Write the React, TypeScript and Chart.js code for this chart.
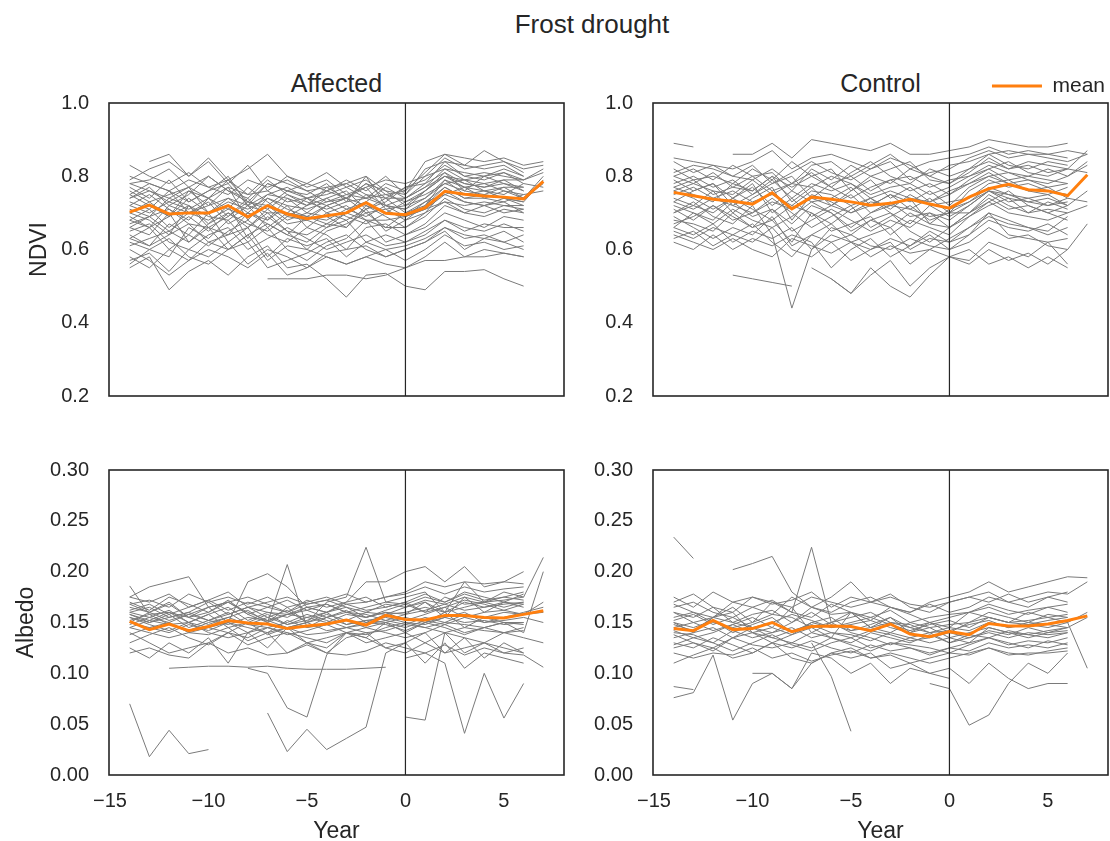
import React, { useEffect, useRef } from "react";
import { Chart, registerables } from "chart.js";

Chart.register(...registerables);

const _ = null;

// ---------- data ----------
const years = [-14, -13, -12, -11, -10, -9, -8, -7, -6, -5, -4, -3, -2, -1, 0, 1, 2, 3, 4, 5, 6, 7];
const yearTicks = [-15, -10, -5, 0, 5];
const ndviTicks = [0.2, 0.4, 0.6, 0.8, 1.0];
const albedoTicks = [0, 0.05, 0.1, 0.15, 0.2, 0.25, 0.3];

const affectedNdviMean = [0.702, 0.721, 0.697, 0.700, 0.700, 0.720, 0.689, 0.720, 0.697, 0.684, 0.692, 0.700, 0.728, 0.699, 0.695, 0.714, 0.759, 0.751, 0.746, 0.743, 0.738, 0.786];
const controlNdviMean = [0.756, 0.747, 0.737, 0.732, 0.724, 0.755, 0.711, 0.743, 0.737, 0.730, 0.721, 0.726, 0.737, 0.724, 0.713, 0.743, 0.766, 0.778, 0.763, 0.760, 0.747, 0.804];
const affectedAlbedoMean = [0.151, 0.143, 0.1485, 0.142, 0.146, 0.152, 0.1495, 0.1485, 0.144, 0.1465, 0.1485, 0.1525, 0.1475, 0.157, 0.153, 0.1525, 0.157, 0.157, 0.155, 0.1545, 0.158, 0.1615];
const controlAlbedoMean = [0.144, 0.142, 0.152, 0.143, 0.144, 0.150, 0.141, 0.146, 0.1465, 0.146, 0.142, 0.1485, 0.1387, 0.136, 0.141, 0.138, 0.149, 0.1465, 0.1465, 0.1485, 0.152, 0.1565];

// individual sites: years -14..-1 | 0..7
const affectedNdvi = [
  [0.83, 0.80, 0.78, 0.81, 0.77, 0.79, 0.75, 0.80, 0.78, 0.76, 0.77, 0.74, 0.78, 0.76, 0.75, 0.80, 0.85, 0.82, 0.83, 0.84, 0.82, 0.83],
  [_, 0.84, 0.86, 0.80, 0.85, 0.79, 0.82, 0.86, 0.80, 0.78, 0.81, 0.77, 0.79, 0.75, 0.76, 0.81, 0.86, 0.83, 0.87, 0.84, 0.81, _],
  [0.77, 0.74, 0.79, 0.73, 0.76, 0.80, 0.72, 0.78, 0.76, 0.74, 0.76, 0.78, 0.80, 0.72, 0.74, 0.78, 0.84, 0.80, 0.79, 0.81, 0.78, _],
  [0.73, 0.71, 0.76, 0.70, 0.72, 0.77, 0.68, 0.74, 0.71, 0.69, 0.72, 0.74, 0.77, 0.71, 0.72, 0.76, 0.81, 0.78, 0.77, 0.79, 0.76, _],
  [0.70, 0.73, 0.69, 0.74, 0.70, 0.73, 0.71, 0.74, 0.72, 0.71, 0.73, 0.74, 0.72, 0.70, 0.73, 0.75, 0.78, 0.76, 0.75, 0.77, 0.74, 0.80],
  [0.66, 0.64, 0.70, 0.62, 0.67, 0.72, 0.63, 0.69, 0.65, 0.64, 0.67, 0.66, 0.71, 0.65, 0.68, 0.70, 0.76, 0.73, 0.72, 0.74, 0.72, _],
  [0.64, 0.61, 0.67, 0.64, 0.61, 0.65, 0.68, 0.64, 0.62, 0.66, 0.64, 0.60, 0.66, 0.67, 0.64, 0.66, 0.70, 0.68, 0.66, 0.69, 0.68, _],
  [0.55, 0.58, 0.49, 0.54, 0.57, 0.53, 0.58, 0.61, 0.55, 0.56, 0.52, 0.47, 0.53, 0.535, 0.50, 0.49, 0.54, 0.54, 0.545, 0.52, 0.50, _],
  [0.60, 0.57, 0.53, 0.57, 0.60, 0.58, 0.55, 0.59, 0.53, 0.55, 0.58, 0.56, 0.58, 0.56, 0.55, 0.58, 0.62, 0.58, 0.60, 0.59, 0.58, _],
  [0.57, 0.59, 0.54, 0.60, 0.58, 0.62, 0.56, 0.60, 0.58, 0.55, 0.59, 0.60, 0.61, 0.58, 0.60, 0.62, 0.66, 0.64, 0.63, 0.65, 0.62, _],
  [0.62, 0.60, 0.58, 0.66, 0.63, 0.68, 0.62, 0.66, 0.60, 0.57, 0.61, 0.63, 0.68, 0.62, 0.64, 0.67, 0.72, 0.70, 0.69, 0.71, 0.70, _],
  [0.68, 0.71, 0.66, 0.70, 0.68, 0.71, 0.69, 0.72, 0.68, 0.70, 0.69, 0.66, 0.72, 0.69, 0.66, 0.70, 0.73, 0.70, 0.72, 0.70, 0.71, _],
  [0.74, 0.76, 0.73, 0.76, 0.74, 0.77, 0.75, 0.76, 0.73, 0.74, 0.75, 0.77, 0.74, 0.75, 0.73, 0.76, 0.80, 0.78, 0.77, 0.78, 0.76, _],
  [0.70, 0.68, 0.64, 0.72, 0.66, 0.69, 0.74, 0.68, 0.72, 0.66, 0.70, 0.72, 0.68, 0.66, 0.70, 0.73, 0.75, 0.77, 0.74, 0.73, 0.75, 0.76],
  [0.79, 0.82, 0.84, 0.80, 0.84, 0.78, 0.83, 0.76, 0.80, 0.77, 0.79, 0.75, 0.74, 0.78, 0.76, 0.84, 0.86, 0.85, 0.84, 0.85, 0.83, 0.84],
  [0.80, 0.78, 0.76, 0.79, 0.77, 0.75, 0.79, 0.77, 0.79, 0.76, 0.73, 0.75, 0.77, 0.79, 0.78, 0.80, 0.82, 0.81, 0.80, 0.82, 0.80, _],
  [0.65, 0.67, 0.62, 0.60, 0.64, 0.66, 0.60, 0.63, 0.66, 0.63, 0.60, 0.62, 0.64, 0.61, 0.62, 0.65, 0.68, 0.66, 0.65, 0.67, 0.65, _],
  [0.58, 0.55, 0.60, 0.57, 0.62, 0.60, 0.64, 0.57, 0.61, 0.60, 0.58, 0.56, 0.58, 0.60, 0.57, 0.60, 0.64, 0.61, 0.62, 0.60, 0.61, _],
  [_, _, _, _, _, _, _, 0.52, 0.52, 0.52, 0.53, 0.53, 0.52, 0.53, 0.55, 0.57, 0.57, 0.58, 0.58, 0.59, 0.58, _],
  [0.69, 0.66, 0.72, 0.70, 0.73, 0.67, 0.70, 0.68, 0.74, 0.72, 0.76, 0.74, 0.70, 0.71, 0.68, 0.72, 0.79, 0.75, 0.76, 0.74, 0.73, _],
  [0.75, 0.72, 0.69, 0.76, 0.72, 0.74, 0.72, 0.70, 0.70, 0.69, 0.67, 0.70, 0.75, 0.72, 0.71, 0.74, 0.79, 0.77, 0.76, 0.75, 0.78, 0.77],
  [0.63, 0.66, 0.60, 0.64, 0.70, 0.62, 0.66, 0.58, 0.63, 0.61, 0.63, 0.58, 0.62, 0.60, 0.61, 0.63, 0.66, 0.63, 0.64, 0.62, 0.60, _],
  [0.78, 0.79, 0.82, 0.77, 0.74, 0.79, 0.73, 0.78, 0.76, 0.78, 0.76, 0.79, 0.76, 0.80, 0.75, 0.82, 0.84, 0.83, 0.82, 0.83, 0.80, _],
  [0.67, 0.69, 0.65, 0.69, 0.65, 0.70, 0.66, 0.71, 0.67, 0.68, 0.66, 0.70, 0.68, 0.68, 0.69, 0.71, 0.73, 0.72, 0.73, 0.72, 0.72, _],
  [0.71, 0.69, 0.74, 0.72, 0.69, 0.68, 0.72, 0.66, 0.70, 0.74, 0.70, 0.68, 0.71, 0.74, 0.70, 0.72, 0.77, 0.74, 0.74, 0.76, 0.74, 0.78],
  [0.74, 0.77, 0.72, 0.75, 0.80, 0.76, 0.73, 0.72, 0.76, 0.75, 0.78, 0.73, 0.80, 0.76, 0.72, 0.74, 0.78, 0.79, 0.76, 0.77, 0.77, _],
  [0.56, 0.60, 0.63, 0.58, 0.56, 0.60, 0.62, 0.55, 0.57, 0.59, 0.62, 0.64, 0.60, 0.58, 0.60, 0.62, 0.65, 0.60, 0.63, 0.62, 0.64, _],
  [0.72, 0.75, 0.71, 0.68, 0.74, 0.71, 0.77, 0.73, 0.69, 0.72, 0.74, 0.71, 0.73, 0.77, 0.74, 0.77, 0.80, 0.79, 0.78, 0.79, 0.79, 0.81],
  [0.76, 0.73, 0.75, 0.77, 0.70, 0.74, 0.70, 0.75, 0.74, 0.70, 0.74, 0.76, 0.71, 0.73, 0.77, 0.78, 0.81, 0.76, 0.80, 0.78, 0.77, _],
  [0.61, 0.63, 0.65, 0.62, 0.66, 0.60, 0.64, 0.67, 0.64, 0.62, 0.66, 0.68, 0.62, 0.64, 0.62, 0.64, 0.68, 0.65, 0.67, 0.66, 0.66, _],
  [0.72, 0.70, 0.73, 0.71, 0.74, 0.69, 0.73, 0.71, 0.75, 0.73, 0.71, 0.73, 0.74, 0.72, 0.71, 0.76, 0.80, 0.77, 0.78, 0.76, 0.75, _],
  [0.68, 0.66, 0.69, 0.72, 0.67, 0.70, 0.67, 0.65, 0.69, 0.68, 0.72, 0.69, 0.67, 0.70, 0.69, 0.73, 0.77, 0.74, 0.75, 0.74, 0.73, 0.79],
  [0.78, 0.76, 0.74, 0.77, 0.80, 0.76, 0.74, 0.79, 0.75, 0.72, 0.77, 0.78, 0.75, 0.74, 0.77, 0.79, 0.83, 0.80, 0.81, 0.80, 0.79, _],
  [0.63, 0.61, 0.64, 0.67, 0.62, 0.64, 0.66, 0.70, 0.65, 0.60, 0.65, 0.67, 0.70, 0.66, 0.66, 0.69, 0.74, 0.71, 0.70, 0.72, 0.71, _],
  [0.75, 0.78, 0.76, 0.73, 0.76, 0.78, 0.72, 0.75, 0.77, 0.74, 0.72, 0.74, 0.78, 0.74, 0.74, 0.77, 0.82, 0.79, 0.80, 0.81, 0.79, 0.82],
  [0.66, 0.69, 0.71, 0.67, 0.66, 0.64, 0.70, 0.67, 0.64, 0.69, 0.68, 0.71, 0.69, 0.72, 0.69, 0.71, 0.75, 0.73, 0.72, 0.73, 0.70, _],
];

const controlNdvi = [
  [0.89, 0.88, _, _, _, _, _, _, _, _, _, _, _, _, _, _, _, _, _, _, _, _],
  [_, _, _, 0.86, 0.86, 0.89, 0.85, 0.90, 0.89, 0.88, 0.87, 0.89, 0.86, 0.86, 0.87, 0.88, 0.90, 0.89, 0.88, 0.88, 0.89, _],
  [0.85, 0.84, 0.83, 0.82, 0.84, 0.87, 0.82, 0.85, 0.86, 0.84, 0.82, 0.85, 0.83, 0.80, 0.83, 0.84, 0.86, 0.87, 0.86, 0.86, 0.87, 0.86],
  [0.80, 0.82, 0.79, 0.83, 0.80, 0.81, 0.76, 0.82, 0.79, 0.83, 0.80, 0.78, 0.82, 0.80, 0.78, 0.81, 0.85, 0.82, 0.84, 0.83, 0.82, _],
  [0.77, 0.75, 0.73, 0.78, 0.76, 0.80, 0.73, 0.77, 0.72, 0.76, 0.79, 0.74, 0.77, 0.73, 0.75, 0.78, 0.80, 0.81, 0.79, 0.78, 0.80, 0.84],
  [0.74, 0.72, 0.76, 0.70, 0.74, 0.77, 0.68, 0.75, 0.73, 0.70, 0.72, 0.75, 0.71, 0.74, 0.70, 0.76, 0.79, 0.77, 0.78, 0.76, 0.75, _],
  [0.68, 0.67, 0.65, 0.70, 0.66, 0.68, 0.62, 0.70, 0.65, 0.67, 0.69, 0.64, 0.68, 0.66, 0.64, 0.69, 0.72, 0.74, 0.70, 0.71, 0.70, _],
  [0.66, 0.64, 0.67, 0.62, 0.65, 0.63, 0.66, 0.60, 0.64, 0.62, 0.60, 0.63, 0.61, 0.65, 0.62, 0.64, 0.68, 0.66, 0.65, 0.67, 0.64, _],
  [0.78, 0.80, 0.77, 0.79, 0.75, 0.78, 0.80, 0.74, 0.78, 0.80, 0.76, 0.79, 0.80, 0.77, 0.79, 0.80, 0.82, 0.84, 0.81, 0.80, 0.82, 0.81],
  [0.72, 0.70, 0.68, 0.73, 0.69, 0.71, 0.67, 0.72, 0.70, 0.66, 0.70, 0.73, 0.69, 0.70, 0.68, 0.72, 0.76, 0.73, 0.74, 0.72, 0.73, _],
  [0.63, 0.65, 0.61, 0.64, 0.62, 0.66, 0.60, 0.58, 0.62, 0.64, 0.61, 0.60, 0.63, 0.61, 0.60, 0.64, 0.70, 0.68, 0.66, 0.64, 0.66, _],
  [0.70, 0.73, 0.69, 0.67, 0.72, 0.64, 0.44, 0.60, 0.66, 0.64, 0.68, 0.70, 0.65, 0.62, 0.66, 0.70, 0.74, 0.71, 0.72, 0.70, 0.68, _],
  [0.82, 0.79, 0.80, 0.78, 0.82, 0.79, 0.84, 0.80, 0.77, 0.81, 0.84, 0.80, 0.78, 0.82, 0.80, 0.82, 0.86, 0.83, 0.82, 0.84, 0.83, _],
  [0.75, 0.77, 0.74, 0.76, 0.73, 0.75, 0.72, 0.76, 0.75, 0.72, 0.74, 0.71, 0.75, 0.72, 0.73, 0.74, 0.78, 0.79, 0.76, 0.77, 0.74, 0.73],
  [0.79, 0.76, 0.78, 0.74, 0.77, 0.72, 0.76, 0.73, 0.74, 0.77, 0.72, 0.75, 0.73, 0.76, 0.72, 0.77, 0.80, 0.78, 0.76, 0.75, 0.77, _],
  [0.67, 0.69, 0.72, 0.68, 0.70, 0.74, 0.70, 0.66, 0.69, 0.72, 0.66, 0.69, 0.72, 0.68, 0.70, 0.70, 0.75, 0.72, 0.70, 0.73, 0.71, _],
  [0.76, 0.74, 0.71, 0.74, 0.78, 0.70, 0.74, 0.69, 0.72, 0.75, 0.70, 0.72, 0.74, 0.67, 0.71, 0.73, 0.77, 0.75, 0.73, 0.74, 0.72, 0.76],
  [_, _, _, _, _, _, _, _, 0.52, 0.48, 0.55, 0.50, 0.47, 0.53, 0.58, 0.56, 0.60, 0.57, 0.59, 0.56, 0.60, 0.67],
  [0.73, 0.71, 0.74, 0.72, 0.70, 0.73, 0.71, 0.74, 0.72, 0.70, 0.73, 0.72, 0.71, 0.69, 0.70, 0.73, 0.76, 0.75, 0.74, 0.75, 0.72, _],
  [0.81, 0.83, 0.82, 0.80, 0.83, 0.78, 0.81, 0.84, 0.81, 0.79, 0.82, 0.84, 0.79, 0.81, 0.82, 0.85, 0.87, 0.85, 0.86, 0.85, 0.84, 0.86],
  [0.64, 0.62, 0.60, 0.63, 0.60, 0.58, 0.63, 0.61, 0.59, 0.62, 0.58, 0.61, 0.59, 0.60, 0.58, 0.57, 0.62, 0.60, 0.58, 0.62, 0.56, _],
  [0.71, 0.68, 0.72, 0.69, 0.66, 0.71, 0.65, 0.68, 0.71, 0.68, 0.65, 0.68, 0.66, 0.70, 0.66, 0.69, 0.73, 0.70, 0.69, 0.68, 0.70, 0.72],
  [0.77, 0.79, 0.75, 0.77, 0.80, 0.76, 0.78, 0.81, 0.77, 0.74, 0.77, 0.79, 0.76, 0.78, 0.75, 0.79, 0.82, 0.79, 0.80, 0.79, 0.78, _],
  [0.69, 0.66, 0.63, 0.66, 0.64, 0.69, 0.61, 0.64, 0.67, 0.62, 0.64, 0.66, 0.60, 0.63, 0.62, 0.66, 0.69, 0.67, 0.66, 0.65, 0.69, _],
  [_, _, _, 0.53, 0.52, 0.51, 0.50, _, _, _, _, _, _, _, _, _, _, _, _, _, _, _],
  [_, _, _, _, _, _, _, 0.55, 0.52, 0.48, 0.53, 0.57, 0.50, 0.55, 0.58, 0.60, 0.56, 0.58, 0.55, 0.58, 0.55, _],
  [0.84, 0.81, 0.83, 0.80, 0.79, 0.82, 0.78, 0.83, 0.84, 0.80, 0.83, 0.86, 0.82, 0.84, 0.85, 0.86, 0.88, 0.86, 0.87, 0.86, 0.85, _],
  [0.65, 0.63, 0.66, 0.64, 0.67, 0.62, 0.58, 0.64, 0.62, 0.57, 0.60, 0.62, 0.56, 0.60, 0.63, 0.66, 0.70, 0.64, 0.63, 0.62, 0.63, _],
  [0.76, 0.78, 0.76, 0.75, 0.79, 0.75, 0.78, 0.77, 0.80, 0.78, 0.75, 0.77, 0.78, 0.75, 0.77, 0.80, 0.83, 0.81, 0.80, 0.82, 0.80, 0.83],
  [0.70, 0.72, 0.70, 0.74, 0.71, 0.68, 0.72, 0.70, 0.67, 0.71, 0.74, 0.70, 0.67, 0.72, 0.69, 0.72, 0.76, 0.74, 0.73, 0.72, 0.74, _],
  [0.73, 0.76, 0.78, 0.72, 0.75, 0.79, 0.74, 0.78, 0.76, 0.78, 0.74, 0.76, 0.74, 0.73, 0.76, 0.78, 0.81, 0.78, 0.79, 0.77, 0.78, _],
  [0.80, 0.78, 0.81, 0.77, 0.76, 0.80, 0.77, 0.80, 0.82, 0.76, 0.80, 0.82, 0.84, 0.79, 0.78, 0.82, 0.84, 0.82, 0.83, 0.81, 0.82, 0.87],
  [0.66, 0.70, 0.67, 0.71, 0.68, 0.66, 0.69, 0.73, 0.70, 0.65, 0.68, 0.66, 0.70, 0.67, 0.66, 0.70, 0.73, 0.76, 0.72, 0.70, 0.72, _],
  [0.62, 0.60, 0.64, 0.60, 0.63, 0.61, 0.64, 0.62, 0.55, 0.60, 0.63, 0.58, 0.61, 0.64, 0.60, 0.62, 0.66, 0.63, 0.64, 0.61, 0.60, _],
];

const affectedAlbedo = [
  [0.07, 0.018, 0.044, 0.021, 0.025, _, _, _, _, _, _, _, _, _, _, _, _, _, _, _, _, _],
  [_, _, 0.105, 0.106, 0.107, 0.107, 0.106, 0.107, 0.105, 0.104, 0.104, 0.104, 0.105, 0.106, _, _, _, _, _, _, _, _],
  [_, _, _, _, _, _, _, 0.061, 0.023, 0.045, 0.025, 0.036, 0.047, 0.12, 0.13, 0.14, 0.12, 0.125, 0.13, 0.12, 0.125, _],
  [_, _, _, _, _, _, 0.105, 0.10, 0.066, 0.057, 0.118, 0.14, 0.135, 0.15, 0.14, 0.15, 0.16, 0.145, 0.155, 0.15, 0.15, _],
  [_, _, _, _, _, _, _, _, _, _, _, _, _, _, 0.057, 0.054, 0.14, 0.12, 0.13, 0.125, 0.12, _],
  [_, _, _, _, _, _, _, _, _, _, _, _, _, _, 0.115, 0.12, 0.11, 0.041, 0.10, 0.056, 0.09, _],
  [0.175, 0.185, 0.19, 0.195, 0.165, 0.15, 0.19, 0.198, 0.185, 0.165, 0.16, 0.17, 0.19, 0.19, 0.20, 0.205, 0.19, 0.205, 0.185, 0.19, 0.20, _],
  [0.186, 0.158, 0.16, 0.15, 0.14, 0.135, 0.14, 0.15, 0.165, 0.15, 0.17, 0.175, 0.224, 0.17, 0.175, 0.18, 0.16, 0.19, 0.17, 0.18, 0.175, 0.214],
  [0.165, 0.16, 0.17, 0.155, 0.165, 0.17, 0.158, 0.165, 0.172, 0.162, 0.168, 0.16, 0.165, 0.17, 0.168, 0.175, 0.17, 0.178, 0.172, 0.175, 0.18, _],
  [0.155, 0.15, 0.158, 0.145, 0.152, 0.16, 0.148, 0.155, 0.162, 0.15, 0.158, 0.152, 0.16, 0.158, 0.16, 0.165, 0.16, 0.17, 0.165, 0.17, 0.168, _],
  [0.15, 0.145, 0.14, 0.148, 0.142, 0.15, 0.145, 0.14, 0.152, 0.145, 0.148, 0.152, 0.145, 0.15, 0.155, 0.15, 0.155, 0.16, 0.15, 0.155, 0.16, 0.165],
  [0.145, 0.14, 0.135, 0.14, 0.138, 0.145, 0.132, 0.14, 0.145, 0.138, 0.14, 0.145, 0.14, 0.142, 0.148, 0.145, 0.15, 0.148, 0.145, 0.15, 0.148, _],
  [0.16, 0.165, 0.155, 0.16, 0.17, 0.158, 0.165, 0.16, 0.155, 0.165, 0.16, 0.168, 0.162, 0.165, 0.17, 0.16, 0.175, 0.168, 0.17, 0.175, 0.172, _],
  [0.14, 0.13, 0.12, 0.125, 0.13, 0.14, 0.128, 0.135, 0.14, 0.13, 0.135, 0.14, 0.13, 0.135, 0.14, 0.13, 0.14, 0.135, 0.13, 0.14, 0.135, 0.13],
  [0.12, 0.125, 0.118, 0.115, 0.13, 0.12, 0.125, 0.118, 0.12, 0.128, 0.12, 0.118, 0.122, 0.13, 0.125, 0.12, 0.128, 0.118, 0.125, 0.12, 0.118, 0.106],
  [0.168, 0.172, 0.165, 0.178, 0.17, 0.175, 0.168, 0.175, 0.165, 0.17, 0.175, 0.168, 0.17, 0.175, 0.178, 0.185, 0.178, 0.185, 0.18, 0.183, 0.185, _],
  [0.158, 0.152, 0.16, 0.155, 0.148, 0.155, 0.162, 0.15, 0.158, 0.155, 0.15, 0.158, 0.155, 0.16, 0.152, 0.158, 0.165, 0.155, 0.16, 0.162, 0.158, 0.16],
  [0.152, 0.158, 0.148, 0.15, 0.158, 0.145, 0.15, 0.158, 0.148, 0.152, 0.16, 0.148, 0.152, 0.155, 0.15, 0.148, 0.155, 0.15, 0.152, 0.148, 0.15, _],
  [0.125, 0.115, 0.13, 0.12, 0.135, 0.11, 0.14, 0.125, 0.145, 0.13, 0.12, 0.135, 0.14, 0.125, 0.13, 0.11, 0.13, 0.105, 0.12, 0.115, 0.11, _],
  [0.17, 0.162, 0.175, 0.168, 0.16, 0.17, 0.175, 0.168, 0.16, 0.172, 0.165, 0.17, 0.175, 0.165, 0.17, 0.178, 0.17, 0.18, 0.175, 0.17, 0.178, _],
  [0.148, 0.155, 0.15, 0.158, 0.152, 0.148, 0.155, 0.152, 0.145, 0.15, 0.155, 0.148, 0.152, 0.15, 0.145, 0.152, 0.148, 0.155, 0.15, 0.152, 0.155, 0.15],
  [0.138, 0.145, 0.15, 0.14, 0.145, 0.15, 0.14, 0.145, 0.138, 0.142, 0.148, 0.14, 0.138, 0.145, 0.15, 0.145, 0.14, 0.145, 0.142, 0.14, 0.145, _],
  [0.16, 0.155, 0.162, 0.15, 0.158, 0.165, 0.152, 0.16, 0.158, 0.162, 0.155, 0.16, 0.158, 0.152, 0.158, 0.17, 0.16, 0.165, 0.17, 0.165, 0.17, _],
  [0.155, 0.148, 0.142, 0.15, 0.145, 0.14, 0.15, 0.138, 0.145, 0.15, 0.142, 0.145, 0.15, 0.148, 0.142, 0.15, 0.145, 0.138, 0.145, 0.15, 0.14, 0.20],
  [0.175, 0.17, 0.178, 0.165, 0.172, 0.18, 0.165, 0.17, 0.175, 0.168, 0.172, 0.178, 0.17, 0.175, 0.18, 0.19, 0.185, 0.19, 0.188, 0.19, 0.188, _],
  [_, _, _, _, _, _, _, 0.14, 0.12, 0.13, 0.125, 0.14, 0.135, 0.125, 0.12, 0.13, 0.12, 0.135, 0.115, 0.13, 0.12, _],
  [0.15, 0.16, 0.168, 0.155, 0.16, 0.172, 0.158, 0.15, 0.207, 0.145, 0.155, 0.162, 0.15, 0.158, 0.165, 0.17, 0.155, 0.175, 0.16, 0.17, 0.165, _],
  [0.162, 0.168, 0.158, 0.165, 0.172, 0.162, 0.17, 0.165, 0.16, 0.168, 0.172, 0.165, 0.16, 0.168, 0.165, 0.172, 0.168, 0.175, 0.17, 0.172, 0.175, _],
  [0.145, 0.152, 0.148, 0.142, 0.15, 0.155, 0.148, 0.145, 0.15, 0.158, 0.152, 0.145, 0.148, 0.152, 0.148, 0.155, 0.15, 0.158, 0.155, 0.16, 0.158, 0.17],
  [0.158, 0.15, 0.155, 0.16, 0.152, 0.158, 0.165, 0.155, 0.148, 0.155, 0.16, 0.165, 0.155, 0.16, 0.158, 0.162, 0.168, 0.162, 0.165, 0.168, 0.17, _],
  [0.13, 0.138, 0.145, 0.135, 0.128, 0.14, 0.135, 0.145, 0.14, 0.135, 0.13, 0.14, 0.145, 0.14, 0.135, 0.14, 0.148, 0.14, 0.145, 0.14, 0.142, _],
  [0.168, 0.16, 0.152, 0.158, 0.165, 0.17, 0.16, 0.152, 0.158, 0.165, 0.168, 0.16, 0.155, 0.162, 0.168, 0.16, 0.165, 0.172, 0.168, 0.162, 0.168, _],
];

const controlAlbedo = [
  [0.234, 0.213, _, _, _, _, _, _, _, _, _, _, _, _, _, _, _, _, _, _, _, _],
  [0.076, 0.081, 0.118, 0.054, 0.09, 0.10, 0.085, 0.11, 0.12, 0.115, 0.12, 0.105, 0.11, 0.10, 0.105, _, _, _, _, _, _, _],
  [0.087, 0.084, _, _, _, _, _, _, _, _, _, _, _, _, _, _, _, _, _, _, _, _],
  [_, _, _, _, _, _, _, 0.13, 0.097, 0.043, _, _, _, _, _, _, _, _, _, _, _, _],
  [_, _, _, _, _, _, _, _, _, _, _, _, _, 0.09, 0.085, 0.049, 0.059, 0.09, 0.11, 0.10, 0.12, _],
  [_, _, _, _, _, _, _, _, _, _, _, _, _, _, 0.105, 0.09, 0.11, 0.095, 0.085, 0.09, 0.09, _],
  [0.16, 0.15, 0.155, 0.165, 0.15, 0.17, 0.16, 0.224, 0.15, 0.16, 0.145, 0.155, 0.14, 0.15, 0.145, 0.16, 0.155, 0.15, 0.16, 0.155, 0.158, _],
  [_, _, _, 0.202, 0.208, 0.215, 0.18, 0.165, 0.175, 0.19, 0.17, 0.165, 0.16, 0.17, 0.175, 0.18, 0.19, 0.18, 0.185, 0.19, 0.195, 0.194],
  [0.175, 0.165, 0.18, 0.17, 0.175, 0.168, 0.172, 0.18, 0.165, 0.175, 0.17, 0.178, 0.165, 0.16, 0.17, 0.175, 0.18, 0.17, 0.175, 0.18, 0.178, 0.19],
  [0.16, 0.155, 0.165, 0.15, 0.158, 0.162, 0.15, 0.165, 0.158, 0.16, 0.155, 0.162, 0.15, 0.155, 0.158, 0.16, 0.165, 0.158, 0.162, 0.165, 0.16, _],
  [0.15, 0.145, 0.152, 0.14, 0.148, 0.155, 0.14, 0.15, 0.145, 0.148, 0.152, 0.145, 0.14, 0.145, 0.148, 0.15, 0.155, 0.15, 0.152, 0.155, 0.15, 0.16],
  [0.14, 0.138, 0.13, 0.142, 0.135, 0.14, 0.145, 0.135, 0.14, 0.138, 0.132, 0.14, 0.135, 0.13, 0.135, 0.14, 0.145, 0.14, 0.138, 0.142, 0.145, _],
  [0.13, 0.125, 0.135, 0.128, 0.12, 0.13, 0.125, 0.132, 0.125, 0.12, 0.128, 0.122, 0.125, 0.12, 0.125, 0.13, 0.135, 0.128, 0.132, 0.13, 0.135, _],
  [0.12, 0.115, 0.12, 0.118, 0.125, 0.115, 0.12, 0.112, 0.118, 0.122, 0.115, 0.118, 0.11, 0.115, 0.12, 0.118, 0.125, 0.12, 0.118, 0.122, 0.125, _],
  [0.168, 0.16, 0.155, 0.17, 0.165, 0.158, 0.175, 0.165, 0.16, 0.17, 0.175, 0.165, 0.16, 0.168, 0.16, 0.165, 0.175, 0.17, 0.165, 0.175, 0.17, _],
  [0.145, 0.15, 0.142, 0.148, 0.155, 0.145, 0.138, 0.15, 0.155, 0.142, 0.145, 0.15, 0.148, 0.14, 0.145, 0.142, 0.15, 0.145, 0.148, 0.145, 0.15, 0.105],
  [0.155, 0.16, 0.15, 0.145, 0.15, 0.158, 0.155, 0.145, 0.15, 0.155, 0.16, 0.15, 0.145, 0.15, 0.14, 0.15, 0.16, 0.155, 0.15, 0.158, 0.155, _],
  [0.135, 0.14, 0.145, 0.135, 0.14, 0.13, 0.138, 0.145, 0.135, 0.13, 0.14, 0.135, 0.13, 0.138, 0.13, 0.135, 0.14, 0.135, 0.14, 0.138, 0.14, _],
  [0.125, 0.13, 0.122, 0.135, 0.128, 0.125, 0.13, 0.125, 0.135, 0.128, 0.122, 0.13, 0.125, 0.118, 0.125, 0.122, 0.13, 0.125, 0.128, 0.125, 0.13, _],
  [0.17, 0.178, 0.165, 0.16, 0.175, 0.17, 0.165, 0.175, 0.17, 0.165, 0.17, 0.175, 0.168, 0.165, 0.17, 0.175, 0.17, 0.178, 0.17, 0.175, 0.18, _],
  [0.15, 0.14, 0.155, 0.16, 0.14, 0.145, 0.165, 0.14, 0.135, 0.16, 0.145, 0.14, 0.15, 0.145, 0.135, 0.13, 0.145, 0.14, 0.135, 0.14, 0.145, 0.155],
  [0.11, 0.118, 0.125, 0.115, 0.12, 0.13, 0.115, 0.11, 0.12, 0.125, 0.115, 0.12, 0.115, 0.11, 0.115, 0.12, 0.125, 0.118, 0.12, 0.12, 0.122, _],
  [0.138, 0.13, 0.125, 0.135, 0.145, 0.135, 0.13, 0.14, 0.15, 0.14, 0.135, 0.128, 0.135, 0.14, 0.13, 0.138, 0.135, 0.142, 0.138, 0.135, 0.14, _],
  [_, _, _, _, 0.10, 0.10, 0.085, 0.12, 0.115, 0.10, 0.11, 0.09, 0.105, 0.10, 0.095, _, _, _, _, _, _, _],
  [0.152, 0.158, 0.148, 0.155, 0.145, 0.15, 0.158, 0.152, 0.145, 0.15, 0.155, 0.148, 0.142, 0.148, 0.152, 0.145, 0.155, 0.15, 0.148, 0.152, 0.155, _],
  [0.142, 0.135, 0.14, 0.148, 0.14, 0.135, 0.142, 0.148, 0.14, 0.135, 0.142, 0.138, 0.132, 0.135, 0.14, 0.135, 0.142, 0.138, 0.145, 0.14, 0.142, _],
  [0.165, 0.17, 0.16, 0.155, 0.165, 0.172, 0.16, 0.155, 0.168, 0.16, 0.152, 0.165, 0.158, 0.15, 0.155, 0.16, 0.168, 0.162, 0.158, 0.165, 0.168, _],
  [0.128, 0.135, 0.13, 0.122, 0.13, 0.138, 0.128, 0.122, 0.13, 0.135, 0.125, 0.13, 0.128, 0.125, 0.12, 0.128, 0.135, 0.13, 0.125, 0.132, 0.128, _],
  [0.148, 0.142, 0.155, 0.15, 0.145, 0.14, 0.15, 0.16, 0.148, 0.142, 0.148, 0.155, 0.145, 0.14, 0.142, 0.148, 0.152, 0.145, 0.15, 0.148, 0.145, _],
];

// ---------- style ----------
const FONT = "'Liberation Sans', Arial, Helvetica, sans-serif";
const TEXT = "#262626";
const GRAY = "#7a7a7a";
const ORANGE = "#ff7f0e";

Chart.defaults.font.family = FONT;
Chart.defaults.color = TEXT;

const framePlugin = {
  id: "frame",
  beforeDatasetDraw(chart: any, args: any) {
    if (args.index !== 0) return;
    const { ctx, chartArea } = chart;
    const x = chart.scales.x.getPixelForValue(0);
    ctx.save();
    ctx.strokeStyle = TEXT;
    ctx.lineWidth = 1.2;
    ctx.beginPath();
    ctx.moveTo(x, chartArea.top);
    ctx.lineTo(x, chartArea.bottom);
    ctx.stroke();
    ctx.restore();
  },
  afterDraw(chart: any) {
    const { ctx, chartArea: a } = chart;
    ctx.save();
    ctx.strokeStyle = TEXT;
    ctx.lineWidth = 1.6;
    ctx.strokeRect(a.left, a.top, a.right - a.left, a.bottom - a.top);
    ctx.restore();
  },
};

type PanelProps = {
  lines: (number | null)[][];
  mean: number[];
  yMin: number;
  yMax: number;
  yTickValues: number[];
  decimals: number;
  yTitle?: string;
  yTitlePad?: number;
  showX: boolean;
  legend: boolean;
  left: number;
  top: number;
  width: number;
  height: number;
  padding: { top: number; right: number; bottom: number; left: number };
  yWidth: number;
};

const fmtYear = (v: number) => (v < 0 ? "\u2212" + Math.abs(v) : String(v));

function Panel(p: PanelProps) {
  const ref = useRef<HTMLCanvasElement>(null);
  useEffect(() => {
    const meanSet = {
      label: "mean",
      data: years.map((x, j) => ({ x, y: p.mean[j] })),
      borderColor: ORANGE,
      backgroundColor: ORANGE,
      borderWidth: 3,
      pointRadius: 0,
      tension: 0,
      order: 0,
    };
    const graySets = p.lines.map((vals, i) => ({
      label: "site " + (i + 1),
      data: years.map((x, j) => ({ x, y: vals[j] })),
      borderColor: GRAY,
      backgroundColor: GRAY,
      borderWidth: 1,
      pointRadius: 0,
      tension: 0,
      spanGaps: false,
      order: 1,
    }));
    const chart = new Chart(ref.current as HTMLCanvasElement, {
      type: "line",
      data: { datasets: [meanSet, ...graySets] as any },
      options: {
        animation: false,
        responsive: false,
        maintainAspectRatio: false,
        devicePixelRatio: 1,
        events: [],
        layout: { padding: p.padding },
        plugins: {
          title: { display: false },
          tooltip: { enabled: false },
          legend: {
            display: p.legend,
            position: "top",
            align: "end",
            maxHeight: 30.5,
            labels: {
              filter: (item: any) => item.text === "mean",
              usePointStyle: true,
              pointStyle: "line",
              pointStyleWidth: 50,
              font: { size: 21, family: FONT },
              color: TEXT,
              padding: 3,
            },
          } as any,
        },
        scales: {
          x: {
            type: "linear",
            min: -15.05,
            max: 8.05,
            display: p.showX,
            grid: { display: false, drawTicks: false },
            border: { display: false },
            ticks: {
              autoSkip: false,
              maxRotation: 0,
              minRotation: 0,
              padding: 14,
              color: TEXT,
              font: { size: 20, family: FONT },
              callback: (v: any) => fmtYear(Number(v)),
            },
            afterBuildTicks: (s: any) => {
              s.ticks = yearTicks.map((v) => ({ value: v }));
            },
            afterFit: (s: any) => {
              s.height = p.showX ? 66 : 0;
            },
            title: {
              display: p.showX,
              text: "Year",
              color: TEXT,
              font: { size: 23, family: FONT, lineHeight: 0.8 },
              padding: { top: 0, bottom: 0 },
            },
          },
          y: {
            type: "linear",
            min: p.yMin,
            max: p.yMax,
            grid: { display: false, drawTicks: false },
            border: { display: false },
            ticks: {
              autoSkip: false,
              padding: 20,
              color: TEXT,
              font: { size: 20, family: FONT },
              callback: (v: any) => Number(v).toFixed(p.decimals),
            },
            afterBuildTicks: (s: any) => {
              s.ticks = p.yTickValues.map((v) => ({ value: v }));
            },
            afterFit: (s: any) => {
              s.width = p.yWidth;
            },
            title: {
              display: !!p.yTitle,
              text: p.yTitle || "",
              color: TEXT,
              font: { size: 23, family: FONT, lineHeight: 1 },
              padding: { top: p.yTitlePad || 0, bottom: 0 },
            },
          },
        },
      } as any,
      plugins: [framePlugin as any],
    });
    return () => chart.destroy();
  }, []);
  return (
    <canvas
      ref={ref}
      width={p.width}
      height={p.height}
      style={{ position: "absolute", left: p.left, top: p.top, width: p.width, height: p.height }}
    />
  );
}

const titleStyle = (centerX: number, top: number, size: number): React.CSSProperties => ({
  position: "absolute",
  left: centerX - 200,
  top,
  width: 400,
  textAlign: "center",
  fontFamily: FONT,
  fontSize: size,
  lineHeight: size + "px",
  color: TEXT,
  whiteSpace: "nowrap",
});

export default function App() {
  return (
    <div
      style={{
        position: "absolute",
        left: 0,
        top: 0,
        width: 1110,
        height: 841,
        overflow: "hidden",
        background: "#ffffff",
      }}
    >
      <div style={titleStyle(592, 11, 26)}>Frost drought</div>
      <div style={titleStyle(336.5, 70.5, 25)}>Affected</div>
      <div style={titleStyle(880.5, 71, 25)}>Control</div>

      <Panel
        lines={affectedNdvi}
        mean={affectedNdviMean}
        yMin={0.2}
        yMax={1.0}
        yTickValues={ndviTicks}
        decimals={1}
        yTitle="NDVI"
        yTitlePad={28.3}
        showX={false}
        legend={false}
        left={0}
        top={60}
        width={570}
        height={368}
        padding={{ top: 43, right: 6, bottom: 18, left: 0 }}
        yWidth={109}
      />
      <Panel
        lines={controlNdvi}
        mean={controlNdviMean}
        yMin={0.2}
        yMax={1.0}
        yTickValues={ndviTicks}
        decimals={1}
        showX={false}
        legend={true}
        left={570}
        top={60}
        width={540}
        height={368}
        padding={{ top: 12.5, right: 2, bottom: 18, left: 0 }}
        yWidth={83}
      />
      <Panel
        lines={affectedAlbedo}
        mean={affectedAlbedoMean}
        yMin={0}
        yMax={0.3}
        yTickValues={albedoTicks}
        decimals={2}
        yTitle="Albedo"
        yTitlePad={14.9}
        showX={true}
        legend={false}
        left={0}
        top={415}
        width={570}
        height={426}
        padding={{ top: 55, right: 6, bottom: 0, left: 0 }}
        yWidth={109}
      />
      <Panel
        lines={controlAlbedo}
        mean={controlAlbedoMean}
        yMin={0}
        yMax={0.3}
        yTickValues={albedoTicks}
        decimals={2}
        showX={true}
        legend={false}
        left={570}
        top={415}
        width={540}
        height={426}
        padding={{ top: 55, right: 2, bottom: 0, left: 0 }}
        yWidth={83}
      />
    </div>
  );
}
